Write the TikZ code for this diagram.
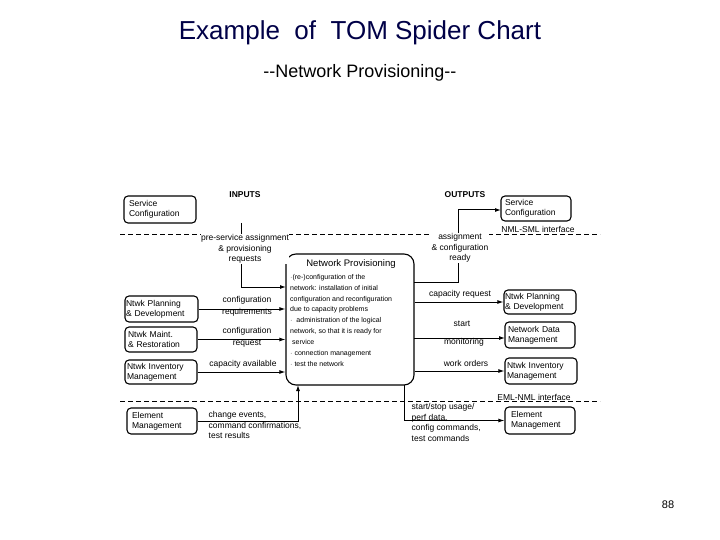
\documentclass[tikz,border=0pt]{standalone}
\usepackage{fontspec}
\setmainfont{Liberation Sans}
\usetikzlibrary{arrows.meta}
\begin{document}
\begin{tikzpicture}[x=1pt,y=-1pt,
  box/.style={draw,line width=1.1pt,rounded corners=4pt,align=left,inner sep=0pt,font=\fontsize{8.5}{10}\selectfont},
  lab/.style={font=\fontsize{8.5}{10.5}\selectfont,align=center,inner sep=0.5pt},
  arr/.style={line width=1pt,-{Latex[length=6pt,width=4pt]}},
  dashln/.style={line width=0.9pt,dash pattern=on 5pt off 3pt}]
\useasboundingbox (0,0) rectangle (720,540);
\node[font=\fontsize{26}{30}\selectfont,text=black!60!blue!70!black] (t1) at (360,33) {Example\ \ of\ \ TOM Spider Chart};
\node[font=\fontsize{18}{21}\selectfont] (t2) at (360,73) {{-}{-}Network Provisioning{-}{-}};
\node[font=\fontsize{11}{13}\selectfont] (pg) at (668,505) {88};
% dashed lines
\coordinate (d1a) at (120,234); \coordinate (d1b) at (600,234);
\coordinate (d2a) at (120,401); \coordinate (d2b) at (600,401);
\draw[dashln] (d1a) -- (d1b);
\draw[dashln] (d2a) -- (d2b);
\node[lab,fill=white,inner sep=1pt] (nml) at (538,229) {NML-SML interface};
\node[lab,fill=white,inner sep=1pt] (eml) at (534,397) {EML-NML interface};
\node[lab,font=\fontsize{8.5}{10}\selectfont\bfseries] (in) at (245,195) {INPUTS};
\node[lab,font=\fontsize{8.5}{10}\selectfont\bfseries] (out) at (465,195) {OUTPUTS};
% boxes
\node[box,minimum width=72pt,minimum height=27pt,text width=62pt] (lsc) at (160,209.5) {Service\\Configuration};
\node[box,minimum width=73pt,minimum height=26pt,text width=71pt] (lnp) at (161.5,309) {Ntwk Planning\\\& Development};
\node[box,minimum width=72pt,minimum height=25pt,text width=66pt] (lnm) at (161,339.5) {Ntwk Maint.\\\& Restoration};
\node[box,minimum width=72pt,minimum height=24pt,text width=68pt] (lni) at (161,372) {Ntwk Inventory\\Management};
\node[box,minimum width=70pt,minimum height=26pt,text width=60pt] (lem) at (162,421) {Element\\Management};
\node[box,minimum width=70pt,minimum height=25pt,text width=62pt] (rsc) at (536,208.5) {Service\\Configuration};
\node[box,minimum width=72pt,minimum height=24pt,text width=70pt] (rnp) at (540,302) {Ntwk Planning\\\& Development};
\node[box,minimum width=70pt,minimum height=26pt,text width=64pt] (rnd) at (540,335) {Network Data\\Management};
\node[box,minimum width=72pt,minimum height=26pt,text width=68pt] (rni) at (541,371) {Ntwk Inventory\\Management};
\node[box,minimum width=70pt,minimum height=27pt,text width=58pt] (rem) at (540,420.5) {Element\\Management};
% central
\node[draw,line width=1.1pt,rounded corners=10pt,minimum width=128pt,minimum height=131pt] (np) at (350,319.5) {};
\node[font=\fontsize{9.5}{11}\selectfont,inner sep=0pt] (npt) at (351,264) {Network Provisioning};
\node[anchor=north west,align=left,inner sep=0pt,font=\fontsize{7}{10.9}\selectfont] (npb) at (290,274) {%
$\cdot$(re-)configuration of the\\
network: installation of initial\\
configuration and reconfiguration\\
due to capacity problems\\
$\cdot$\ \ administration of the logical\\
network, so that it is ready for\\
\ service\\
$\cdot$\ connection management\\
$\cdot$\ test the network};
% helper coordinates
\coordinate (c1) at (241,223);
\coordinate (c2) at (286,287);
\coordinate (c3) at (298,385);
\coordinate (c4) at (414,282);
\coordinate (c5) at (458,210);
\coordinate (c6) at (501,210);
\coordinate (c7) at (414,338);
\coordinate (c8) at (505,338);
\coordinate (c9) at (404,385);
% inputs
\draw[arr] (c1) |- (c2);
\node[lab,fill=white] (l1) at (245,249) {pre-service assignment\\\& provisioning\\requests};
\draw[arr] (lnp.east) -- (np.west |- lnp.east);
\node[lab] (l2) at (247,306) {configuration\\[1.5pt]requirements};
\draw[arr] (lnm.east) -- (np.west |- lnm.east);
\node[lab] (l3) at (247,337) {configuration\\[1.5pt]request};
\draw[arr] (lni.east) -- (np.west |- lni.east);
\node[lab] (l4) at (243,364) {capacity available};
\draw[arr] (lem.east) -| (c3);
\node[lab,anchor=north west,align=left] (l5) at (208,411) {change events,\\command confirmations,\\test results};
% outputs
\draw[arr] (c4) -| (c5) -- (c6);
\node[lab,fill=white] (r1) at (460,248) {assignment\\\& configuration\\ready};
\draw[arr] (np.east |- rnp.west) -- (rnp.west);
\node[lab] (r2) at (460,294) {capacity request};
\draw[arr] (c7) -- (c8);
\node[lab] (r3) at (462,324) {start};
\node[lab] (r4) at (464,342) {monitoring};
\draw[arr] (np.east |- rni.west) -- (rni.west);
\node[lab] (r5) at (466,363) {work orders};
\draw[arr] (c9) |- (rem.west);
\node[lab,anchor=north west,align=left] (r6) at (411,403) {start/stop usage/\\perf data,\\config commands,\\test commands};
\end{tikzpicture}
\end{document}
